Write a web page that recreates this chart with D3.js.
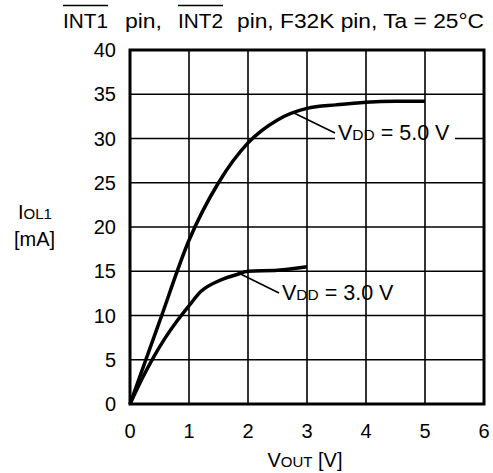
<!DOCTYPE html>
<html><head><meta charset="utf-8">
<script src="https://cdn.jsdelivr.net/npm/d3@7"></script>
<style>
html,body{margin:0;padding:0;background:#fff;}
svg{display:block;font-family:"Liberation Sans",Arial,sans-serif;}
text{white-space:pre;}
</style></head>
<body><svg id="c" width="493" height="473"></svg>
<script>
const xTicks = [0,1,2,3,4,5,6];
const yTicks = [0,5,10,15,20,25,30,35,40];
const vout5 = [0,0.5,1,1.5,2,2.5,3,3.5,4,4.5,5];
const iol5  = [0,9.3,18.5,25,29.5,32.1,33.4,33.8,34.1,34.2,34.2];
const vout3 = [0,0.2,0.4,0.6,0.8,1.0,1.2,1.5,1.8,2.0,2.5,3.0];
const iol3  = [0,2.8,5.3,7.5,9.4,11.1,12.7,13.9,14.6,15.0,15.1,15.5];
const seriesLabels = ["5.0 V","3.0 V"];

const svg = d3.select("#c");
const L=130, R=484, T=50, B=404;
const x = d3.scaleLinear().domain([0,6]).range([L,R]);
const y = d3.scaleLinear().domain([0,40]).range([B,T]);
const FS = 20;

// horizontal grid
svg.append("g").selectAll("line").data(yTicks.slice(1,-1)).join("line")
  .attr("x1",L).attr("x2",R).attr("y1",d=>y(d)).attr("y2",d=>y(d))
  .attr("stroke","#000").attr("stroke-width",1.6);

// white box behind 5V label (covers horizontal gridline)
svg.append("rect").attr("x",335).attr("y",y(30)-8).attr("width",120).attr("height",16).attr("fill","#fff");

// vertical grid
svg.append("g").selectAll("line").data(xTicks.slice(1,-1)).join("line")
  .attr("x1",d=>x(d)).attr("x2",d=>x(d)).attr("y1",T).attr("y2",B)
  .attr("stroke","#000").attr("stroke-width",1.6);

// frame
svg.append("rect").attr("x",L).attr("y",T).attr("width",R-L).attr("height",B-T)
  .attr("fill","none").attr("stroke","#000").attr("stroke-width",3);

// curves
const line = d3.line().x(d=>x(d[0])).y(d=>y(d[1])).curve(d3.curveMonotoneX);
svg.append("path").attr("d",line(vout5.map((v,i)=>[v,iol5[i]])))
  .attr("fill","none").attr("stroke","#000").attr("stroke-width",3.5);
svg.append("path").attr("d",line(vout3.map((v,i)=>[v,iol3[i]])))
  .attr("fill","none").attr("stroke","#000").attr("stroke-width",3.5);

// tick labels
svg.append("g").selectAll("text").data(yTicks).join("text")
  .attr("x",116).attr("y",d=>y(d)+7).attr("text-anchor","end")
  .attr("font-size",FS).text(d=>d);
svg.append("g").selectAll("text").data(xTicks).join("text")
  .attr("x",d=>x(d)).attr("y",438).attr("text-anchor","middle")
  .attr("font-size",FS).text(d=>d);

// leaders + labels
function vddLabel(tx, ty, lx1, ly1, val){
  svg.append("line").attr("x1",lx1).attr("y1",ly1).attr("x2",tx-3).attr("y2",ty-7)
    .attr("stroke","#000").attr("stroke-width",1.6);
  const t = svg.append("text").attr("x",tx).attr("y",ty).attr("font-size",21.5);
  t.append("tspan").text("V");
  t.append("tspan").attr("font-size",15.5).text("DD");
  t.append("tspan").text(" = " + val);
}
vddLabel(338, 140, x(2.77), y(32.9), seriesLabels[0]);
vddLabel(282, 300, x(1.84), y(14.8), seriesLabels[1]);

// axis titles
const yl = svg.append("text").attr("x",18).attr("y",219).attr("font-size",FS);
yl.append("tspan").text("I");
yl.append("tspan").attr("font-size",15).text("OL1");
svg.append("text").attr("x",14).attr("y",246).attr("font-size",FS).text("[mA]");

const xl = svg.append("text").attr("x",305).attr("y",467).attr("text-anchor","middle").attr("font-size",FS);
xl.append("tspan").text("V");
xl.append("tspan").attr("font-size",15).text("OUT");
xl.append("tspan").text(" [V]");

// title pieces with overlines
const TF = 20;
function tpiece(tx, s, len, bar){
  const t = svg.append("text").attr("x",tx).attr("y",28).attr("font-size",TF)
    .attr("textLength",len).attr("lengthAdjust","spacingAndGlyphs").text(s);
  if(bar){
    svg.append("line").attr("x1",tx).attr("x2",tx+len).attr("y1",5.5).attr("y2",5.5)
      .attr("stroke","#000").attr("stroke-width",1.3);
  }
}
tpiece(63, "INT1", 45, true);
tpiece(125, "pin,", 37, false);
tpiece(178, "INT2", 45, true);
tpiece(237, "pin, F32K pin, Ta = 25\u00B0C", 247, false);
</script></body></html>
